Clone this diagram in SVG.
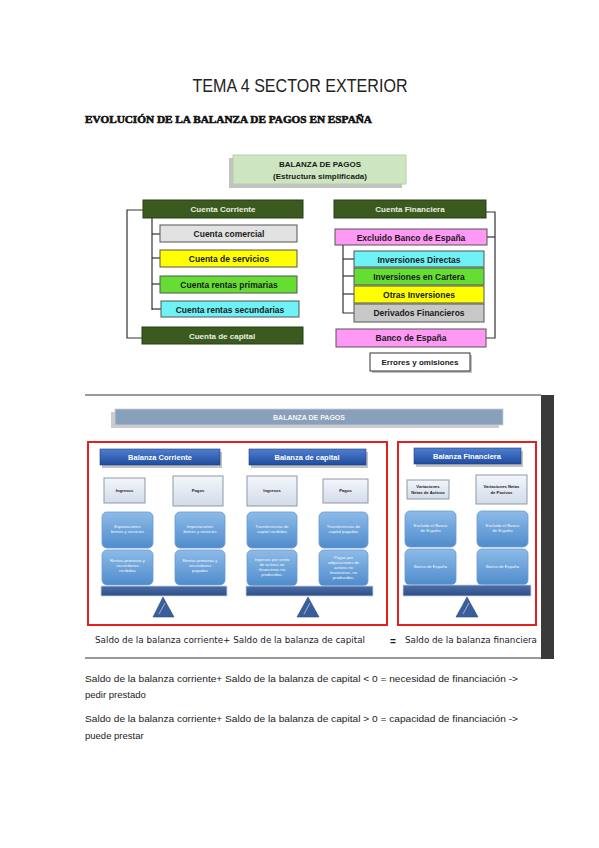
<svg xmlns="http://www.w3.org/2000/svg" width="599" height="848" viewBox="0 0 599 848">
<defs>
<linearGradient id="gBlue" x1="0" y1="0" x2="0" y2="1"><stop offset="0" stop-color="#4f7fd0"/><stop offset="1" stop-color="#1f4c9e"/></linearGradient>
<linearGradient id="gRound" x1="0" y1="0" x2="0" y2="1"><stop offset="0" stop-color="#8dbbe8"/><stop offset="1" stop-color="#4f8ccc"/></linearGradient>
<linearGradient id="gGray" x1="0" y1="0" x2="0" y2="1"><stop offset="0" stop-color="#f3f6fb"/><stop offset="1" stop-color="#d3dcea"/></linearGradient>
<linearGradient id="gBar" x1="0" y1="0" x2="0" y2="1"><stop offset="0" stop-color="#4d6fa8"/><stop offset="1" stop-color="#2d4d85"/></linearGradient>
</defs>
<style>
.t{font-family:"Liberation Sans",Arial,sans-serif}
.b{font-family:"Liberation Sans",Arial,sans-serif;font-weight:bold;text-anchor:middle}
.k{fill:#1a1a1a}
.w{fill:#ffffff}
.box{stroke:#555;stroke-width:1}
.dg{fill:#3b5a1f;stroke:#2a3f15;stroke-width:1}
.sh{fill:#9a9a9a;opacity:0.6}
.ln{fill:none;stroke:#333;stroke-width:1.2}
.rb{fill:none;stroke:#e32020;stroke-width:2}
.btn{fill:url(#gBlue);stroke:#1d3f80;stroke-width:0.6}
.rnd{fill:url(#gRound);stroke:#6a9ad4;stroke-width:0.8}
.sm{fill:url(#gGray);stroke:#8f99a8;stroke-width:1}
.tri{fill:#3a5e9c;stroke:#2b4a80;stroke-width:0.6}
.hl{stroke:#c8d8f0;stroke-width:0.7}
.tiny{font-family:"Liberation Sans",Arial,sans-serif;font-size:4.2px;fill:#f4f8ff;text-anchor:middle}
.tinyk{font-family:"Liberation Sans",Arial,sans-serif;font-size:4.2px;font-weight:bold;fill:#222;text-anchor:middle}
.hw{font-family:"DejaVu Sans",sans-serif;fill:#1a1a2a;font-size:9.5px}
</style>
<rect width="599" height="848" fill="#ffffff"/>

<text class="t" x="300" y="92" font-size="19" text-anchor="middle" fill="#222" textLength="215" lengthAdjust="spacingAndGlyphs">TEMA 4 SECTOR EXTERIOR</text>
<text x="85" y="123" font-family="Liberation Serif,serif" font-weight="bold" font-size="11" fill="#111" stroke="#111" stroke-width="0.6" textLength="287" lengthAdjust="spacingAndGlyphs">EVOLUCIÓN DE LA BALANZA DE PAGOS EN ESPAÑA</text>

<!-- Diagram 1 connectors -->
<g id="connectors1">
<polyline class="ln" points="143,210 127,210 127,338 142,338"/>
<polyline class="ln" points="152,218 152,310"/>
<line class="ln" x1="152" y1="234" x2="160" y2="234"/>
<line class="ln" x1="152" y1="258" x2="160" y2="258"/>
<line class="ln" x1="152" y1="284" x2="160" y2="284"/>
<line class="ln" x1="152" y1="309" x2="161" y2="309"/>
<polyline class="ln" points="486,212 495,212 495,338 486,338"/>
<line class="ln" x1="487" y1="237" x2="495" y2="237"/>
<polyline class="ln" points="343,245 343,313 354,313"/>
<line class="ln" x1="343" y1="259" x2="354" y2="259"/>
<line class="ln" x1="343" y1="276" x2="354" y2="276"/>
<line class="ln" x1="343" y1="294" x2="354" y2="294"/>
</g>

<g id="n-balanza">
<rect class="sh" x="229" y="158" width="173" height="30"/>
<rect x="233" y="155" width="173" height="29" fill="#cde5c0" stroke="#b5cfa8" stroke-width="1"/>
<text class="b k" x="320" y="167" font-size="8">BALANZA DE PAGOS</text>
<text class="b k" x="320" y="179" font-size="8">(Estructura simplificada)</text>
</g>
<g id="n-cc"><rect class="dg" x="143" y="200" width="160" height="18"/><text class="b" x="223" y="212" font-size="8" fill="#e8f0e0">Cuenta Corriente</text></g>
<g id="n-cf"><rect class="dg" x="334" y="200" width="152" height="18"/><text class="b" x="410" y="212" font-size="8" fill="#e8f0e0">Cuenta Financiera</text></g>
<g id="n-com"><rect class="box" x="160" y="225" width="137" height="17" fill="#e2e2e2"/><text class="b k" x="229" y="237" font-size="8.5">Cuenta comercial</text></g>
<g id="n-serv"><rect class="box" x="160" y="250" width="137" height="17" fill="#ffff00"/><text class="b k" x="229" y="262" font-size="8.5">Cuenta de servicios</text></g>
<g id="n-prim"><rect class="box" x="160" y="276" width="137" height="17" fill="#66dd33"/><text class="b k" x="229" y="288" font-size="8.5">Cuenta rentas primarias</text></g>
<g id="n-sec"><rect class="box" x="161" y="301" width="138" height="16" fill="#6ff2f5"/><text class="b k" x="230" y="313" font-size="8.5">Cuenta rentas secundarias</text></g>
<g id="n-cap"><rect class="dg" x="142" y="327" width="161" height="17"/><text class="b" x="222" y="339" font-size="8" fill="#e8f0e0">Cuenta de capital</text></g>
<g id="n-exc"><rect class="box" x="335" y="229" width="152" height="16" fill="#ff99f5"/><text class="b k" x="411" y="241" font-size="8.5">Excluido Banco de España</text></g>
<g id="n-dir"><rect class="box" x="354" y="251" width="130" height="16" fill="#6ff2f5"/><text class="b k" x="419" y="263" font-size="8.5">Inversiones Directas</text></g>
<g id="n-cart"><rect class="box" x="354" y="268" width="130" height="17" fill="#66dd33"/><text class="b k" x="419" y="280" font-size="8.5">Inversiones en Cartera</text></g>
<g id="n-otras"><rect class="box" x="354" y="286" width="130" height="17" fill="#ffff00"/><text class="b k" x="419" y="298" font-size="8.5">Otras Inversiones</text></g>
<g id="n-deriv"><rect class="box" x="354" y="304" width="130" height="18" fill="#c8c8c8"/><text class="b k" x="419" y="316" font-size="8.5">Derivados Financieros</text></g>
<g id="n-bde"><rect class="box" x="336" y="329" width="150" height="18" fill="#ff99f5"/><text class="b k" x="411" y="341" font-size="8.5">Banco de España</text></g>
<g id="n-err"><rect class="sh" x="372" y="355" width="100" height="18"/><rect x="370" y="353" width="100" height="18" fill="#ffffff" stroke="#333" stroke-width="1"/><text class="b k" x="420" y="365" font-size="8">Errores y omisiones</text></g>

<!-- Diagram 2 -->
<g id="frame2">
<line x1="85" y1="395" x2="541" y2="395" stroke="#777" stroke-width="1.5"/>
<rect x="541" y="395" width="13" height="264" fill="#3a3a3a"/>
<line x1="85" y1="658" x2="541" y2="658" stroke="#777" stroke-width="1.5"/>
</g>
<g id="n-bp2">
<rect x="111" y="412" width="388" height="16" fill="#999" opacity="0.5"/>
<rect x="115" y="409" width="388" height="16" fill="#8a9fb9" stroke="#c6d0de" stroke-width="0.8"/>
<text class="b" x="309" y="420" font-size="7" fill="#f4f6fa">BALANZA DE PAGOS</text>
</g>
<g id="n-red-left"><rect class="rb" x="88" y="442" width="299" height="183"/></g>
<g id="n-red-right"><rect class="rb" x="398" y="442" width="138" height="183"/></g>

<g id="n-bcorr"><rect class="sh" x="102" y="452" width="120" height="16"/><rect class="btn" x="100" y="449" width="120" height="16"/><text class="b w" x="160" y="460" font-size="7.5">Balanza Corriente</text></g>
<g id="n-bcap"><rect class="sh" x="251" y="452" width="117" height="16"/><rect class="btn" x="249" y="449" width="117" height="16"/><text class="b w" x="307" y="460" font-size="7.5">Balanza de capital</text></g>
<g id="n-bfin"><rect class="sh" x="416" y="451" width="107" height="16"/><rect class="btn" x="414" y="448" width="107" height="16"/><text class="b w" x="467" y="459" font-size="7.5">Balanza Financiera</text></g>

<g id="n-ing1"><rect class="sm" x="104" y="478" width="41" height="25"/><text class="tinyk" x="124.5" y="492">Ingresos</text></g>
<g id="n-pag1"><rect class="sm" x="173" y="476" width="50" height="30"/><text class="tinyk" x="198" y="492">Pagos</text></g>
<g id="n-ing2"><rect class="sm" x="247" y="476" width="50" height="30"/><text class="tinyk" x="272" y="492">Ingresos</text></g>
<g id="n-pag2"><rect class="sm" x="323" y="479" width="45" height="24"/><text class="tinyk" x="345.5" y="492">Pagos</text></g>
<g id="n-var1"><rect class="sm" x="407" y="480" width="42" height="19"/><text class="tinyk" x="428" y="488">Variaciones</text><text class="tinyk" x="428" y="494">Netas de Activos</text></g>
<g id="n-var2"><rect class="sm" x="476" y="475" width="51" height="29"/><text class="tinyk" x="501.5" y="488">Variaciones Netas</text><text class="tinyk" x="501.5" y="494">de Pasivos</text></g>

<g id="n-exp"><rect class="rnd" x="102" y="512" width="51" height="36" rx="5"/><text class="tiny" x="127.5" y="528">Exportaciones</text><text class="tiny" x="127.5" y="533">bienes y servicios</text></g>
<g id="n-rrec"><rect class="rnd" x="102" y="550" width="51" height="35" rx="5"/><text class="tiny" x="127.5" y="562">Rentas primarias y</text><text class="tiny" x="127.5" y="567">secundarias</text><text class="tiny" x="127.5" y="572">recibidas</text></g>
<g id="n-imp"><rect class="rnd" x="175" y="512" width="50" height="36" rx="5"/><text class="tiny" x="200" y="528">Importaciones</text><text class="tiny" x="200" y="533">bienes y servicios</text></g>
<g id="n-rpag"><rect class="rnd" x="175" y="550" width="50" height="35" rx="5"/><text class="tiny" x="200" y="562">Rentas primarias y</text><text class="tiny" x="200" y="567">secundarias</text><text class="tiny" x="200" y="572">pagadas</text></g>
<g id="n-trec"><rect class="rnd" x="247" y="512" width="50" height="36" rx="5"/><text class="tiny" x="272" y="528">Transferencias de</text><text class="tiny" x="272" y="533">capital recibidas</text></g>
<g id="n-ivta"><rect class="rnd" x="247" y="550" width="50" height="36" rx="5"/><text class="tiny" x="272" y="561">Ingresos por venta</text><text class="tiny" x="272" y="566">de activos no</text><text class="tiny" x="272" y="571">financieros no</text><text class="tiny" x="272" y="576">producidos.</text></g>
<g id="n-tpag"><rect class="rnd" x="319" y="512" width="49" height="36" rx="5"/><text class="tiny" x="343.5" y="528">Transferencias de</text><text class="tiny" x="343.5" y="533">capital pagadas</text></g>
<g id="n-padq"><rect class="rnd" x="319" y="550" width="49" height="36" rx="5"/><text class="tiny" x="343.5" y="559">Pagos por</text><text class="tiny" x="343.5" y="564">adquisiciones de</text><text class="tiny" x="343.5" y="569">activos no</text><text class="tiny" x="343.5" y="574">financieros, no</text><text class="tiny" x="343.5" y="579">producidos.</text></g>
<g id="n-exc1"><rect class="rnd" x="405" y="511" width="51" height="36" rx="5"/><text class="tiny" x="430.5" y="527">Excluido el Banco</text><text class="tiny" x="430.5" y="532">de España</text></g>
<g id="n-bde1"><rect class="rnd" x="405" y="549" width="51" height="36" rx="5"/><text class="tiny" x="430.5" y="568">Banco de España</text></g>
<g id="n-exc2"><rect class="rnd" x="477" y="511" width="51" height="36" rx="5"/><text class="tiny" x="502.5" y="527">Excluido el Banco</text><text class="tiny" x="502.5" y="532">de España</text></g>
<g id="n-bde2"><rect class="rnd" x="477" y="549" width="51" height="36" rx="5"/><text class="tiny" x="502.5" y="568">Banco de España</text></g>

<g id="n-bal1"><rect x="101" y="586" width="126" height="10" fill="url(#gBar)" stroke="#c8d6ec" stroke-width="0.8"/><path class="tri" d="M163,597 L174,617 L153,617 Z"/><line class="hl" x1="165" y1="603" x2="159" y2="614"/></g>
<g id="n-bal2"><rect x="246" y="586" width="127" height="10" fill="url(#gBar)" stroke="#c8d6ec" stroke-width="0.8"/><path class="tri" d="M308,597 L319,617 L297,617 Z"/><line class="hl" x1="310" y1="603" x2="304" y2="614"/></g>
<g id="n-bal3"><rect x="403" y="585" width="128" height="11" fill="url(#gBar)" stroke="#c8d6ec" stroke-width="0.8"/><path class="tri" d="M467,597 L478,617 L456,617 Z"/><line class="hl" x1="469" y1="603" x2="463" y2="614"/></g>

<text class="hw" x="95" y="643" textLength="270" lengthAdjust="spacingAndGlyphs">Saldo de la balanza corriente+ Saldo de la balanza de capital</text>
<text x="390" y="645" font-family="Liberation Sans,sans-serif" font-weight="bold" font-size="10" fill="#1a1a2a">=</text>
<text class="hw" x="405" y="643" textLength="132" lengthAdjust="spacingAndGlyphs">Saldo de la balanza financiera</text>

<text class="t" x="85" y="682" font-size="9.5" fill="#222" textLength="433" lengthAdjust="spacingAndGlyphs">Saldo de la balanza corriente+ Saldo de la balanza de capital &lt; 0 = necesidad de financiación -&gt;</text>
<text class="t" x="85" y="698" font-size="9.5" fill="#222">pedir prestado</text>
<text class="t" x="85" y="722" font-size="9.5" fill="#222" textLength="433" lengthAdjust="spacingAndGlyphs">Saldo de la balanza corriente+ Saldo de la balanza de capital &gt; 0 = capacidad de financiación -&gt;</text>
<text class="t" x="85" y="739" font-size="9.5" fill="#222">puede prestar</text>
</svg>
